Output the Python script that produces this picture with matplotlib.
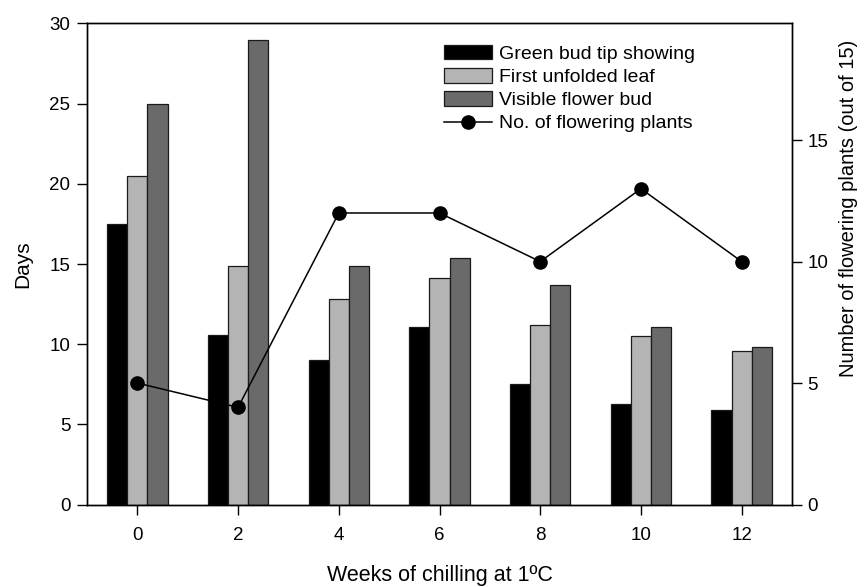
import matplotlib
matplotlib.use("Agg")
import matplotlib.pyplot as plt
import numpy as np

plt.rcParams['font.family'] = ['Liberation Sans', 'DejaVu Sans']

weeks = [0, 2, 4, 6, 8, 10, 12]
green_bud = [17.5, 10.6, 9.0, 11.1, 7.5, 6.3, 5.9]
first_leaf = [20.5, 14.9, 12.8, 14.1, 11.2, 10.5, 9.6]
flower_bud = [25.0, 29.0, 14.9, 15.4, 13.7, 11.1, 9.8]
flowering_plants = [5, 4, 12, 12, 10, 13, 10]

series_labels = ["Green bud tip showing", "First unfolded leaf", "Visible flower bud"]
line_label = "No. of flowering plants"
colors = ["#000000", "#b4b4b4", "#6a6a6a"]

fig = plt.figure(figsize=(8.64, 5.87), dpi=100)
ax = fig.add_axes([0.1007, 0.1405, 0.8160, 0.8195])
ax2 = ax.twinx()

x = np.array(weeks, dtype=float)
w = 0.4
handles = []
for i, (vals, c, lab) in enumerate(zip([green_bud, first_leaf, flower_bud], colors, series_labels)):
    b = ax.bar(x + (i - 1) * w, vals, width=w, color=c, edgecolor="#1a1a1a",
               linewidth=0.9, label=lab, zorder=2)
    handles.append(b)

ln, = ax2.plot(weeks, flowering_plants, color="black", linewidth=1.1, marker="o",
               markersize=9.5, label=line_label, zorder=3)
handles.append(ln)

ax.set_xlim(-1, 13)
ax.set_ylim(0, 30)
ax.set_yticks([0, 5, 10, 15, 20, 25, 30])
ax.set_xticks(weeks)
ax2.set_ylim(0, 19.8)
ax2.set_yticks([0, 5, 10, 15])

for a in (ax, ax2):
    a.tick_params(direction="out", length=7, width=1, labelsize=13.5, pad=5)
    for s in a.spines.values():
        s.set_linewidth(1.0)
ax.tick_params(axis="x", pad=9)
ax2.tick_params(axis="y", pad=4)

ax.set_ylabel("Days", fontsize=15, labelpad=12)
ax.set_xlabel("Weeks of chilling at 1ºC", fontsize=15.5, labelpad=15)
ax2.set_ylabel("Number of flowering plants (out of 15)", fontsize=14.5)
ax2.yaxis.set_label_coords(1.066, 0.615)

ax2.legend(handles=handles, labels=series_labels + [line_label],
           loc="upper left", bbox_to_anchor=(0.506, 0.955), frameon=False,
           fontsize=14, handlelength=2.5, handleheight=0.75, handletextpad=0.35,
           labelspacing=0.27, borderpad=0, borderaxespad=0)

fig.savefig("out.png", dpi=100)
